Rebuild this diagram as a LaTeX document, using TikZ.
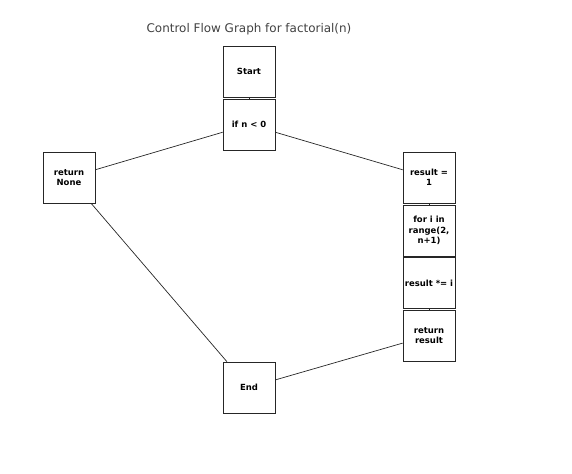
\documentclass[tikz,border=0pt]{standalone}
\usepackage{fontspec}
\setmainfont{DejaVu Sans}
\begin{document}
\begin{tikzpicture}[x=1bp,y=-1bp,
  blk/.style={draw=black!85,line width=0.7bp,minimum width=52bp,minimum height=51bp,inner sep=0pt,align=center,font=\fontsize{8.5}{10.5}\selectfont\bfseries},
  edge/.style={draw=black!85,line width=0.7bp}]
\useasboundingbox (0,0) rectangle (572,474);
\node[font=\fontsize{12}{14}\selectfont,text=black!75] (title) at (249,29) {Control Flow Graph for factorial(n)};
\node[blk] (start) at (249,71.5) {Start};
\node[blk] (if) at (249,124.5) {if n < 0};
\node[blk] (rnone) at (69,177.5) {return\\None};
\node[blk] (res1) at (429,177.5) {result =\\1};
\node[blk] (for) at (429,230.5) {for i in\\range(2,\\n+1)};
\node[blk] (mul) at (429,283) {result *= i};
\node[blk] (rres) at (429,335.5) {return\\result};
\node[blk] (end) at (249,387.5) {End};
\draw[edge] (start) -- (if);
\draw[edge] (if) -- (rnone);
\draw[edge] (if) -- (res1);
\draw[edge] (res1) -- (for);
\draw[edge] (for) -- (mul);
\draw[edge] (mul) -- (rres);
\draw[edge] (rnone) -- (end);
\draw[edge] (rres) -- (end);
\end{tikzpicture}
\end{document}
